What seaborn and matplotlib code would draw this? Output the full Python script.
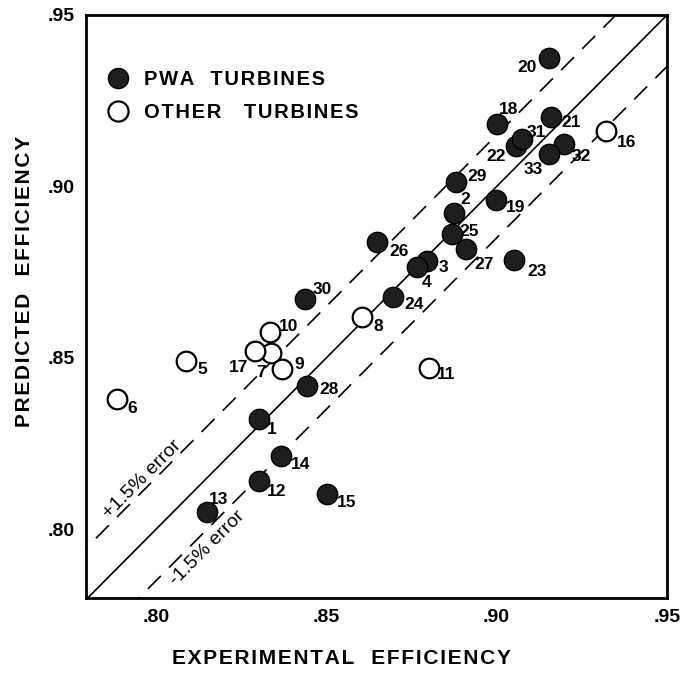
import matplotlib
matplotlib.use("Agg")
import matplotlib.pyplot as plt
from matplotlib.lines import Line2D
import seaborn as sns
import pandas as pd
import numpy as np

# ---- data ----
pwa_labels = ['1', '2', '3', '4', '12', '13', '14', '15', '18', '19', '20', '21',
              '22', '23', '24', '25', '26', '27', '28', '29', '30', '31', '32', '33']
pwa_exp = [0.8302, 0.8874, 0.8795, 0.8766, 0.8302, 0.8150, 0.8367, 0.8502, 0.9001, 0.8998,
           0.9153, 0.9159, 0.9056, 0.9050, 0.8695, 0.8869, 0.8648, 0.8910, 0.8443, 0.8880,
           0.8437, 0.9074, 0.9197, 0.9153]
pwa_pred = [0.8321, 0.8924, 0.8782, 0.8764, 0.8140, 0.8052, 0.8213, 0.8102, 0.9181, 0.8962,
            0.9376, 0.9204, 0.9117, 0.8787, 0.8677, 0.8860, 0.8837, 0.8817, 0.8417, 0.9012,
            0.8671, 0.9137, 0.9123, 0.9094]

other_labels = ['5', '6', '7', '8', '9', '10', '11', '16', '17']
other_exp = [0.8088, 0.7886, 0.8337, 0.8604, 0.8370, 0.8335, 0.8801, 0.9320, 0.8290]
other_pred = [0.8490, 0.8379, 0.8513, 0.8618, 0.8467, 0.8577, 0.8472, 0.9161, 0.8519]

x_ticks = [0.80, 0.85, 0.90, 0.95]
y_ticks = [0.80, 0.85, 0.90, 0.95]
tick_labels = ['.80', '.85', '.90', '.95']
error_band = 0.015

# label offsets (pixels) - styling only
offsets = {
    '1': (13, -10), '2': (12, 13), '3': (17, -6), '4': (10, -15), '5': (16, -8),
    '6': (15, -9), '7': (-10, -19), '8': (17, -9), '9': (17, 5), '10': (19, 5),
    '11': (17, -7), '12': (18, -10), '13': (12, 12), '14': (20, -8), '15': (20, -8),
    '16': (21, -11), '17': (-16, -16), '18': (12, 15), '19': (20, -8), '20': (-22, -10),
    '21': (20, -6), '22': (-20, -10), '23': (23, -12), '24': (21, -7), '25': (17, 3),
    '26': (22, -9), '27': (18, -15), '28': (22, -3), '29': (21, 6), '30': (17, 10),
    '31': (14, 7), '32': (18, -12), '33': (-15, -15),
}


def spaced(s, sep='\u200a'):
    return sep.join(s)


df_pwa = pd.DataFrame({'exp': pwa_exp, 'pred': pwa_pred, 'label': pwa_labels})
df_oth = pd.DataFrame({'exp': other_exp, 'pred': other_pred, 'label': other_labels})

sns.set_style("white")
plt.rcParams['font.family'] = ['Liberation Sans', 'DejaVu Sans']
for k in ['text.color', 'axes.labelcolor', 'xtick.color', 'ytick.color', 'axes.edgecolor']:
    plt.rcParams[k] = 'black'

fig = plt.figure(figsize=(6.85, 6.73), dpi=100)
ax = fig.add_axes([86/685, 1 - 598/673, 581/685, 583/673])

xmin, xmax = 0.7795, 0.95
ymin, ymax = 0.7800, 0.95

# reference lines
xs = np.array([0.77, 0.96])
ax.plot(xs, xs, color='black', lw=1.2, zorder=1)
ax.plot(xs, xs + error_band, color='black', lw=1.2, dashes=(11, 7), zorder=1)
ax.plot(xs, xs - error_band, color='black', lw=1.2, dashes=(11, 7), zorder=1)

sns.scatterplot(data=df_pwa, x='exp', y='pred', ax=ax, s=215, color='#1e1e1e',
                edgecolor='black', linewidth=1.0, zorder=3, legend=False)
sns.scatterplot(data=df_oth, x='exp', y='pred', ax=ax, s=200, color='white',
                edgecolor='black', linewidth=1.6, zorder=3, legend=False)

for df in (df_pwa, df_oth):
    for _, r in df.iterrows():
        dx, dy = offsets[r['label']]
        ax.annotate(r['label'], (r['exp'], r['pred']), xytext=(dx, dy),
                    textcoords='offset pixels', ha='center', va='center',
                    fontsize=12.5, fontweight='bold', zorder=4)

ax.text(0.7979, 0.8129, '+1.5% error', rotation=45, rotation_mode='anchor',
        ha='center', va='bottom', fontsize=14, zorder=2)
ax.text(0.8135, 0.7962, '-1.5% error', rotation=45, rotation_mode='anchor',
        ha='center', va='top', fontsize=14, zorder=2)

ax.set_xlim(xmin, xmax)
ax.set_ylim(ymin, ymax)
ax.set_xticks(x_ticks)
ax.set_yticks(y_ticks)
ax.set_xticklabels(tick_labels)
ax.set_yticklabels(tick_labels)
ax.tick_params(axis='both', direction='in', length=11, width=1.6, labelsize=14, pad=8)
for lab in ax.get_xticklabels() + ax.get_yticklabels():
    lab.set_fontweight('bold')
for sp in ax.spines.values():
    sp.set_linewidth(2.0)

ax.set_xlabel('')
ax.set_ylabel('')
fig.text(342/685, 1 - 659/673, spaced('EXPERIMENTAL') + '   ' + spaced('EFFICIENCY'),
         ha='center', va='center', fontsize=15, fontweight='bold')
fig.text(25/685, 1 - 281/673, spaced('PREDICTED') + '   ' + spaced('EFFICIENCY'),
         ha='center', va='center', rotation=90, fontsize=15, fontweight='bold')

handles = [
    Line2D([], [], marker='o', linestyle='', markersize=14.5, markerfacecolor='#1e1e1e',
           markeredgecolor='black', label=spaced('PWA') + '   ' + spaced('TURBINES')),
    Line2D([], [], marker='o', linestyle='', markersize=14.5, markerfacecolor='white',
           markeredgecolor='black', markeredgewidth=1.6,
           label=spaced('OTHER') + '    ' + spaced('TURBINES')),
]
leg = ax.legend(handles=handles, loc='upper left', bbox_to_anchor=(0.02, 0.92),
                frameon=False, handletextpad=0.7, labelspacing=0.72, borderaxespad=0,
                prop={'size': 14.5, 'weight': 'bold'}, handlelength=1.2)

fig.savefig('out.png', dpi=100)
